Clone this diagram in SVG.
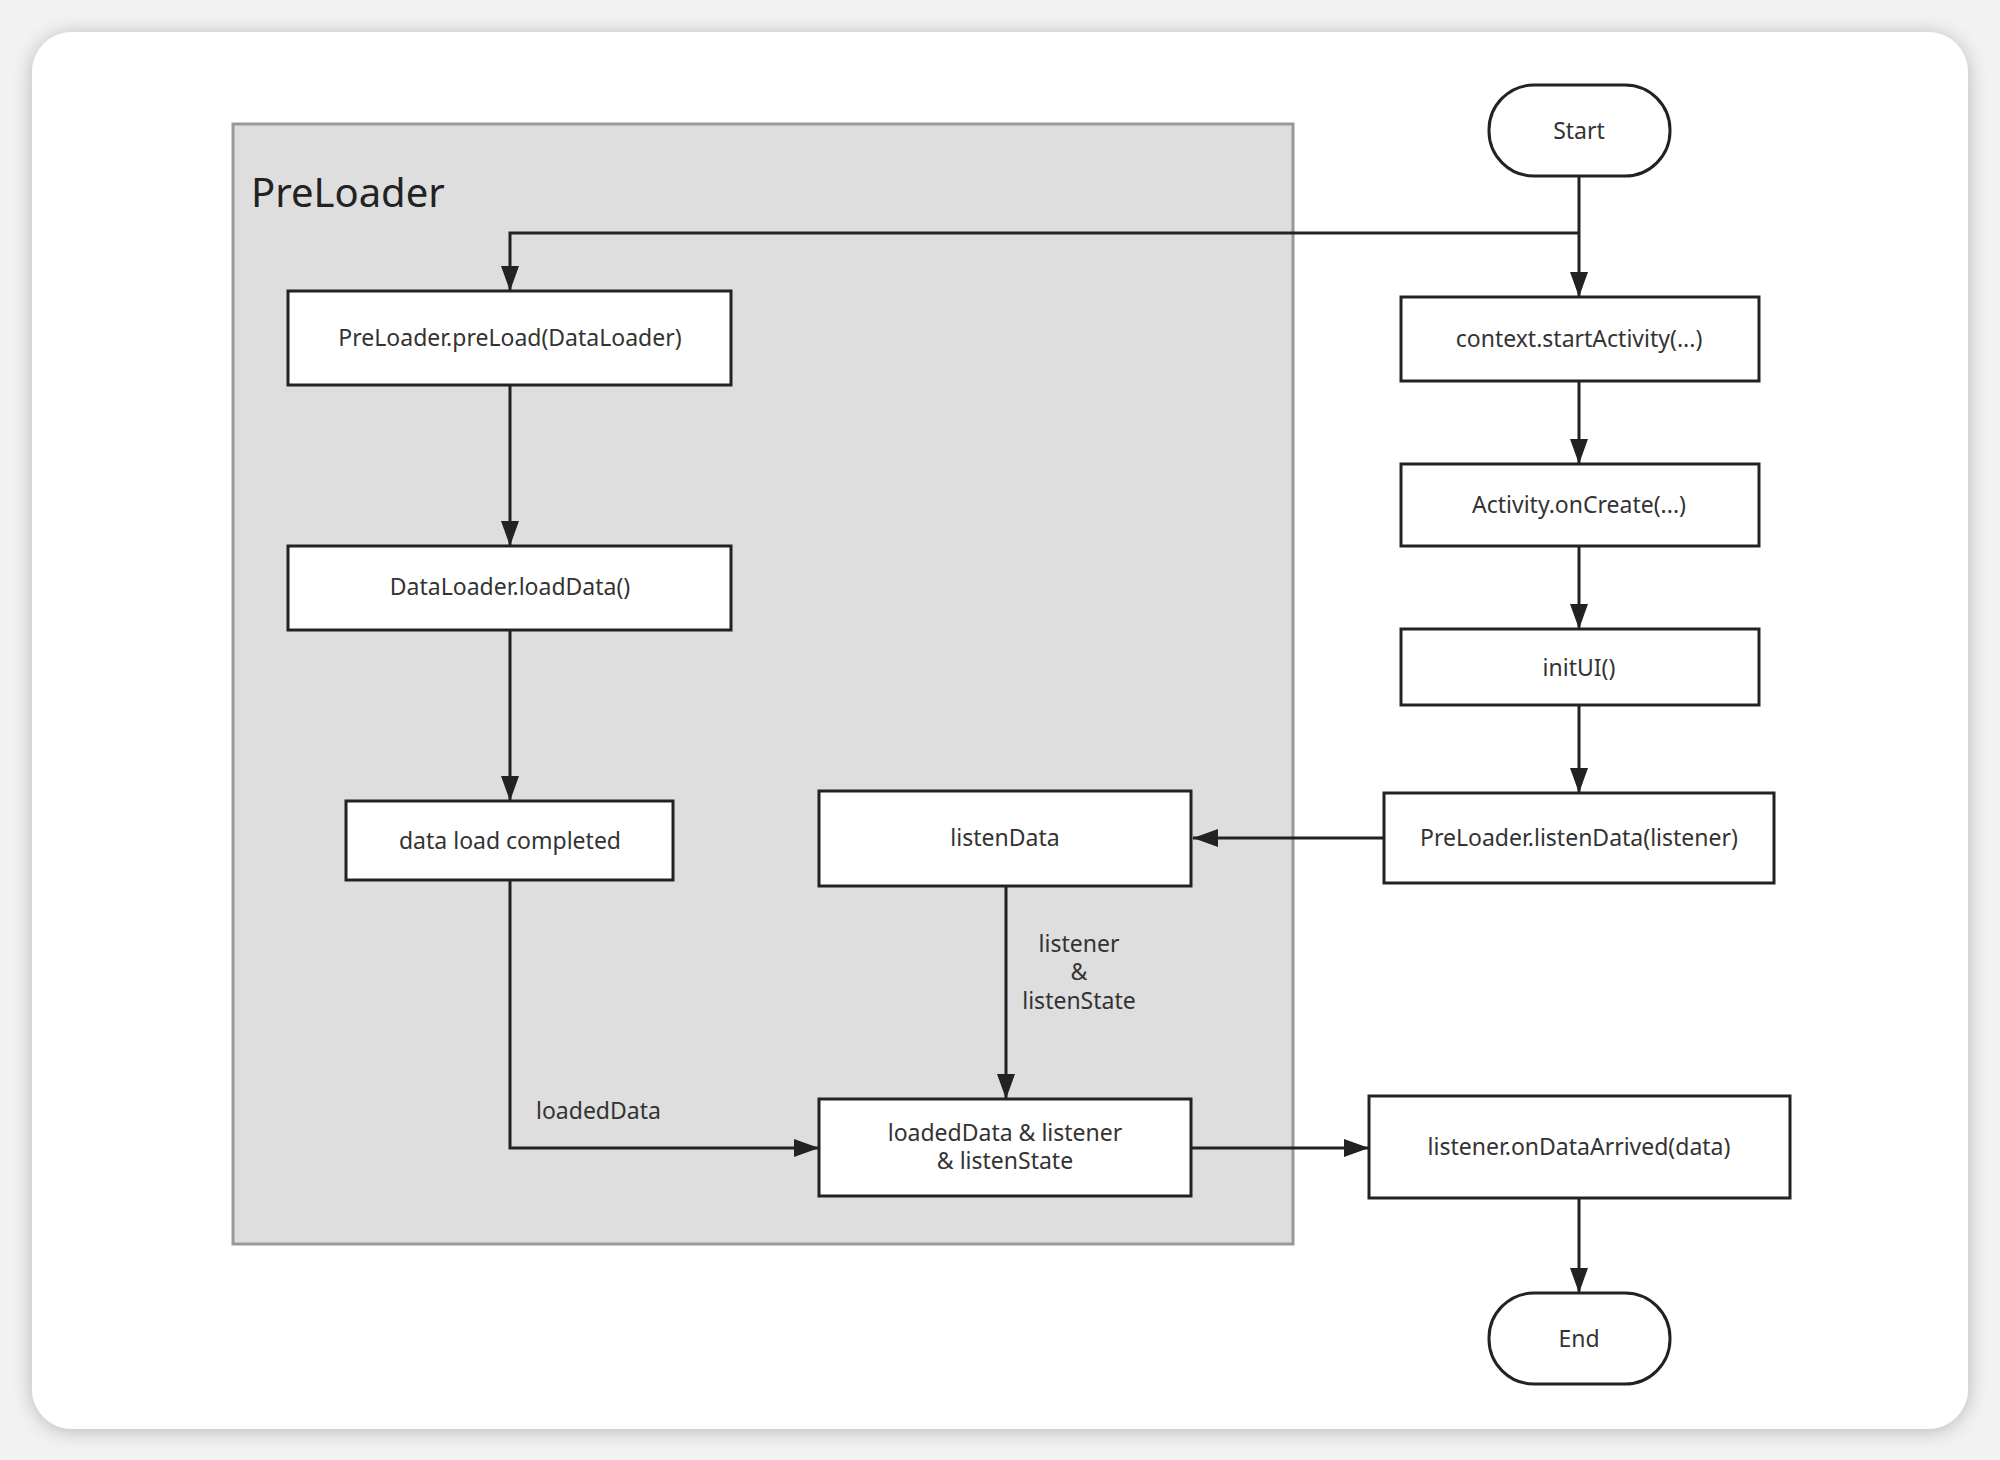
<svg xmlns="http://www.w3.org/2000/svg" width="2000" height="1460" viewBox="0 0 2000 1460">
<defs>
<filter id="sh" x="-5%" y="-5%" width="110%" height="110%">
<feGaussianBlur in="SourceAlpha" stdDeviation="10"/>
<feOffset dx="0" dy="2"/>
<feComponentTransfer><feFuncA type="linear" slope="0.25"/></feComponentTransfer>
<feMerge><feMergeNode/><feMergeNode in="SourceGraphic"/></feMerge>
</filter>
<marker id="ah" viewBox="0 0 25 18" refX="25" refY="9" markerWidth="25" markerHeight="18" markerUnits="userSpaceOnUse" orient="auto">
<path d="M0,0 L25,9 L0,18 z" fill="#222"/>
</marker>
<style>
.box{fill:#fff;stroke:#222;stroke-width:3}
.t{font-family:"Noto Sans","Open Sans",sans-serif;font-size:23px;fill:#333;text-anchor:middle}
.lbl{font-family:"Noto Sans","Open Sans",sans-serif;font-size:23px;fill:#333}
.c{fill:none;stroke:#222;stroke-width:3;marker-end:url(#ah)}
</style>
</defs>
<rect width="2000" height="1460" fill="#f2f2f2"/>
<rect x="32" y="32" width="1936" height="1397" rx="40" fill="#fff" filter="url(#sh)"/>
<g id="preloader-group">
<rect x="233" y="124" width="1060" height="1120" fill="#dedede" stroke="#999" stroke-width="3"/>
<text x="251" y="207" font-family="Noto Sans, Open Sans, sans-serif" font-size="40" fill="#222">PreLoader</text>
</g>
<g id="connectors">
<path class="c" d="M1579,176 V297"/>
<path class="c" d="M1579,233 H510 V291"/>
<path class="c" d="M510,385 V546"/>
<path class="c" d="M510,630 V801"/>
<path class="c" d="M510,880 V1148 H819"/>
<text class="lbl" x="536" y="1119">loadedData</text>
<path class="c" d="M1006,886 V1099"/>
<text class="t" x="1079" y="952">listener</text>
<text class="t" x="1079" y="980">&amp;</text>
<text class="t" x="1079" y="1009">listenState</text>
<path class="c" d="M1384,838 H1193"/>
<path class="c" d="M1191,1148 H1369"/>
<path class="c" d="M1579,381 V464"/>
<path class="c" d="M1579,546 V629"/>
<path class="c" d="M1579,705 V793"/>
<path class="c" d="M1579,1198 V1293"/>
</g>
<g id="start"><rect class="box" x="1489" y="85" width="181" height="91" rx="45"/><text class="t" x="1579" y="139">Start</text></g>
<g id="preload"><rect class="box" x="288" y="291" width="443" height="94"/><text class="t" x="510" y="346">PreLoader.preLoad(DataLoader)</text></g>
<g id="loaddata"><rect class="box" x="288" y="546" width="443" height="84"/><text class="t" x="510" y="595">DataLoader.loadData()</text></g>
<g id="completed"><rect class="box" x="346" y="801" width="327" height="79"/><text class="t" x="510" y="849">data load completed</text></g>
<g id="listendata"><rect class="box" x="819" y="791" width="372" height="95"/><text class="t" x="1005" y="846">listenData</text></g>
<g id="combined"><rect class="box" x="819" y="1099" width="372" height="97"/><text class="t" x="1005" y="1141">loadedData &amp; listener</text><text class="t" x="1005" y="1169">&amp; listenState</text></g>
<g id="startactivity"><rect class="box" x="1401" y="297" width="358" height="84"/><text class="t" x="1579" y="347">context.startActivity(...)</text></g>
<g id="oncreate"><rect class="box" x="1401" y="464" width="358" height="82"/><text class="t" x="1579" y="513">Activity.onCreate(...)</text></g>
<g id="initui"><rect class="box" x="1401" y="629" width="358" height="76"/><text class="t" x="1579" y="676">initUI()</text></g>
<g id="listencall"><rect class="box" x="1384" y="793" width="390" height="90"/><text class="t" x="1579" y="846">PreLoader.listenData(listener)</text></g>
<g id="ondataarrived"><rect class="box" x="1369" y="1096" width="421" height="102"/><text class="t" x="1579" y="1155">listener.onDataArrived(data)</text></g>
<g id="end"><rect class="box" x="1489" y="1293" width="181" height="91" rx="45"/><text class="t" x="1579" y="1347">End</text></g>
</svg>
